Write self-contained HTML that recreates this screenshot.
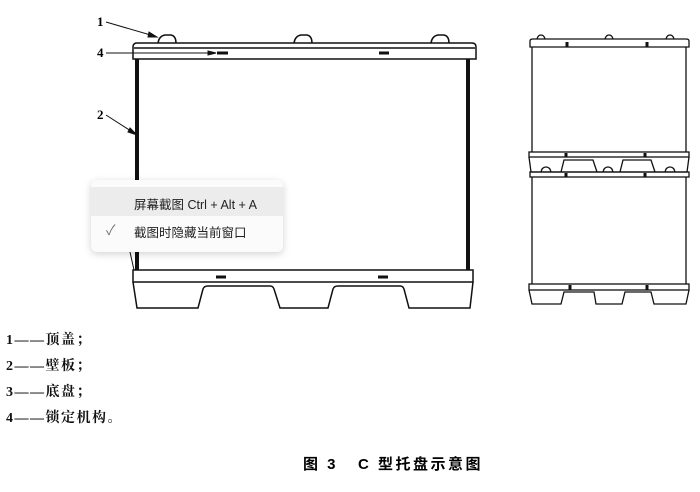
<!DOCTYPE html>
<html><head><meta charset="utf-8"><style>
html,body{margin:0;padding:0;background:#fff;}
body{width:700px;height:492px;position:relative;overflow:hidden;font-family:"Liberation Serif","Noto Serif CJK SC",serif;}
.lg{position:absolute;left:6px;font-size:14px;font-weight:bold;color:#111;letter-spacing:1.5px;}
.menu{position:absolute;left:91px;top:180px;width:192px;height:72px;background:#fbfbfb;border-radius:6px;box-shadow:0 2px 8px rgba(0,0,0,0.18);font-family:"Liberation Sans","Noto Sans CJK SC",sans-serif;font-size:12.5px;color:#222;}
.r1{position:absolute;left:0;top:7px;width:192px;height:29px;background:#ececec;}
.t1{position:absolute;left:43px;top:14px;}
.t2{position:absolute;left:43px;top:42px;}
.ck{position:absolute;left:15px;top:40px;color:#777;font-size:14px;}
</style></head><body>
<svg width="700" height="492" style="position:absolute;left:0;top:0" fill="none" stroke="#111">
<g stroke-width="1.5">
<path d="M158 43 Q159 36 165 35 L171 35 Q176 36 176 43"/>
<path d="M294 43 Q295 36 301 35 L307 35 Q312 36 312 43"/>
<path d="M431 43 Q432 36 438 35 L444 35 Q449 36 449 43"/>
<path d="M133 59 L133 47 Q133 43 137 43 L472 43 Q476 43 476 47 L476 59 Z"/>
<line x1="134" y1="48" x2="475" y2="48"/>
<path d="M133 270 L473 270 L473 282 L133 282 Z"/>
<path d="M133 282 L137 308 L198 308 L203 289 Q204 286 208 286 L270 286 Q273 286 274 289 L280 308 L328 308 L333 289 Q334 286 338 286 L400 286 Q403 286 404 289 L409 308 L470 308 L473 282"/>
<line x1="137" y1="59" x2="137" y2="270" stroke-width="4"/>
<line x1="468" y1="59" x2="468" y2="270" stroke-width="4"/>
</g>
<g stroke-width="3"><line x1="217" y1="53" x2="228" y2="53"/><line x1="379" y1="53" x2="389" y2="53"/><line x1="216" y1="277" x2="226" y2="277"/><line x1="378" y1="277" x2="388" y2="277"/></g>
<g stroke-width="1">
<line x1="106" y1="22" x2="154" y2="36"/><path d="M157 37 L149 32 L148 37 Z" fill="#111"/>
<line x1="106" y1="53" x2="212" y2="53"/><path d="M216 53 L208 51 L208 55 Z" fill="#111"/>
<line x1="106" y1="115" x2="134" y2="133"/><path d="M137 135 L130 128 L128 132 Z" fill="#111"/>
<line x1="130" y1="252" x2="134" y2="270"/>
</g>
<g stroke-width="1.3">
<path d="M537 39 Q538 35 541 35 Q544 35 545 39"/>
<path d="M605 39 Q606 35 609 35 Q612 35 613 39"/>
<path d="M666 39 Q667 35 670 35 Q673 35 674 39"/>
<path d="M530 47 L530 41 Q530 39 533 39 L686 39 Q689 39 689 41 L689 47 Z"/>
<line x1="532" y1="47" x2="532" y2="152"/><line x1="686" y1="47" x2="686" y2="152"/>
<rect x="529" y="152" width="160" height="5"/>
<path d="M529 157 L531 172 L687 172 L689 157"/>
<path d="M561 172 L564 160 L593 160 L597 172"/>
<path d="M620 172 L623 160 L651 160 L655 172"/>
<path d="M541 172 Q542 167 546 167 Q550 167 551 172"/>
<path d="M603 172 Q604 167 608 167 Q612 167 613 172"/>
<path d="M665 172 Q666 167 670 167 Q674 167 675 172"/>
<rect x="530" y="172" width="159" height="5"/>
<line x1="532" y1="177" x2="532" y2="284"/><line x1="686" y1="177" x2="686" y2="284"/>
<rect x="529" y="284" width="160" height="6"/>
<path d="M529 290 L532 304 L561 304 L564 292 L594 292 L596 304 L622 304 L625 292 L651 292 L654 304 L686 304 L689 290"/>
</g>
<g stroke-width="3"><line x1="567" y1="42" x2="567" y2="47"/><line x1="647" y1="42" x2="647" y2="47"/>
<line x1="566" y1="153" x2="566" y2="157"/><line x1="645" y1="153" x2="645" y2="157"/>
<line x1="566" y1="173" x2="566" y2="177"/><line x1="645" y1="173" x2="645" y2="177"/>
<line x1="570" y1="285" x2="570" y2="290"/><line x1="647" y1="285" x2="647" y2="290"/></g>
</svg>
<div style="position:absolute;left:97px;top:14px;font-size:13px;font-weight:bold;">1</div>
<div style="position:absolute;left:97px;top:45px;font-size:13px;font-weight:bold;">4</div>
<div style="position:absolute;left:97px;top:107px;font-size:13px;font-weight:bold;">2</div>
<div class="menu"><div class="r1"></div><div class="t1">屏幕截图 Ctrl + Alt + A</div><div class="ck">✓</div><div class="t2">截图时隐藏当前窗口</div></div>
<div class="lg" style="top:329px">1——顶盖；</div>
<div class="lg" style="top:355px">2——壁板；</div>
<div class="lg" style="top:381px">3——底盘；</div>
<div class="lg" style="top:407px">4——锁定机构。</div>
<div style="position:absolute;left:303px;top:453px;font-size:15px;font-weight:bold;font-family:'Liberation Sans','Noto Sans CJK SC',sans-serif;letter-spacing:2.5px;">图 3&nbsp;&nbsp;&nbsp;C 型托盘示意图</div>
</body></html>
